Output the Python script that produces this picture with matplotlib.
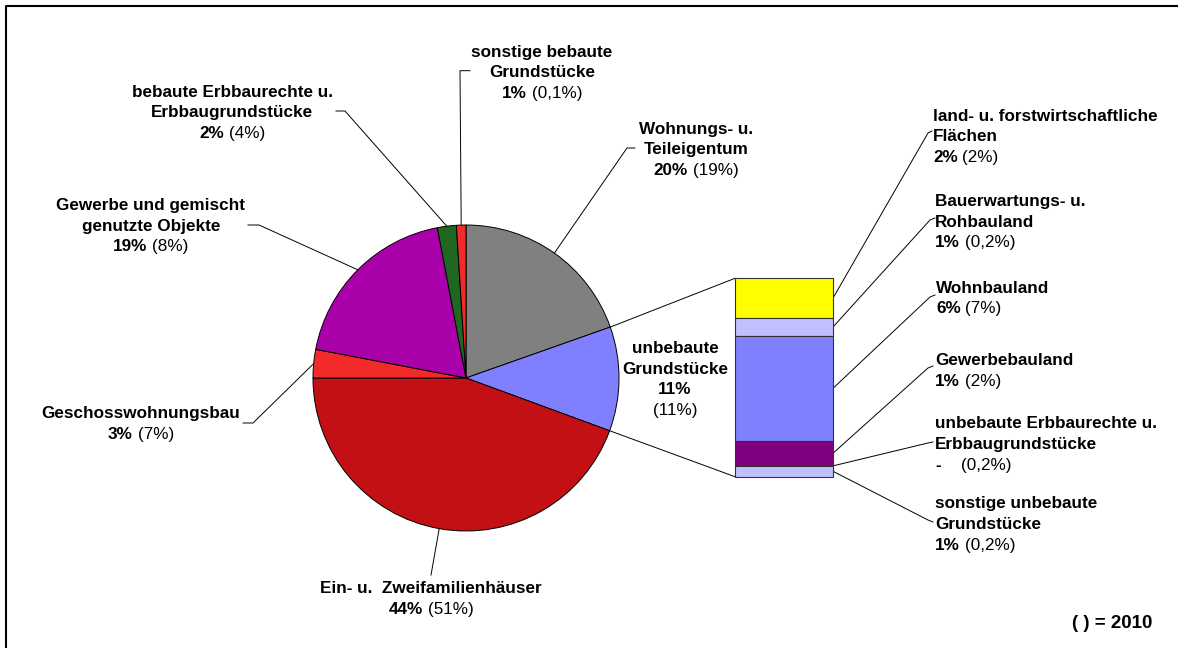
import numpy as np
import matplotlib
matplotlib.use("Agg")
import matplotlib.pyplot as plt

# ---------------- data ----------------
pie_labels = ["Wohnungs- u.\nTeileigentum", "unbebaute\nGrundstücke",
              "Ein- u.  Zweifamilienhäuser", "Geschosswohnungsbau",
              "Gewerbe und gemischt\ngenutzte Objekte",
              "bebaute Erbbaurechte u.\nErbbaugrundstücke",
              "sonstige bebaute\nGrundstücke"]
pie_values = [19.6, 11.0, 44.4, 3.0, 19.0, 2.0, 1.0]
pie_pct_now = ["20%", "11%", "44%", "3%", "19%", "2%", "1%"]
pie_pct_2010 = ["(19%)", "(11%)", "(51%)", "(7%)", "(8%)", "(4%)", "(0,1%)"]
pie_colors = ["#808080", "#8080FF", "#C31014", "#F22A2A", "#AA00AA", "#206820", "#F22A2A"]

bar_labels = ["land- u. forstwirtschaftliche\nFlächen", "Bauerwartungs- u.\nRohbauland",
              "Wohnbauland", "Gewerbebauland",
              "unbebaute Erbbaurechte u.\nErbbaugrundstücke",
              "sonstige unbebaute\nGrundstücke"]
bar_values = [2.2, 1.0, 5.8, 1.4, 0.0, 0.6]
bar_pct_now = ["2%", "1%", "6%", "1%", "-", "1%"]
bar_pct_2010 = ["(2%)", "(0,2%)", "(7%)", "(2%)", "(0,2%)", "(0,2%)"]
bar_colors = ["#FFFF00", "#C0C0FF", "#8080FF", "#800080", "#9999FF", "#C0C0FF"]

footnote = "( ) = 2010"

# ---------------- layout (pixels, y downward) ----------------
W, H = 1178, 648
FONT = "Liberation Sans"
FS = 12.3
LS = 20.7
CX, CY, R = 466, 378, 153
BX0, BX1, BTOP, BH = 735, 833, 278.3, 198.4

def Y(y):
    return H - y

fig = plt.figure(figsize=(W / 100, H / 100), dpi=100)
ax = fig.add_axes([0, 0, 1, 1])
renderer = fig.canvas.get_renderer()

# pie
wedges, _ = ax.pie(pie_values, colors=pie_colors, startangle=90, counterclock=False,
                   center=(CX, Y(CY)), radius=R,
                   wedgeprops=dict(edgecolor="black", linewidth=0.7))
ax.set_xlim(0, W)
ax.set_ylim(0, H)
ax.set_aspect("auto")
ax.axis("off")

frac = np.array(pie_values) / sum(pie_values)
starts = 90 - 360 * np.concatenate([[0], np.cumsum(frac)[:-1]])
mids = starts - 180 * frac
ends = starts - 360 * frac

def edge_pt(ang):
    a = np.deg2rad(ang)
    return CX + R * np.cos(a), CY - R * np.sin(a)

# bar of pie
scale = BH / sum(bar_values)
tops = BTOP + scale * np.concatenate([[0], np.cumsum(bar_values)[:-1]])
heights = scale * np.array(bar_values)
ax.bar([(BX0 + BX1) / 2] * len(bar_values), heights, bottom=[Y(t + h) for t, h in zip(tops, heights)],
       width=BX1 - BX0, color=bar_colors, edgecolor="#333333", linewidth=0.8, zorder=3)

# connectors between pie and bar (blue wedge boundaries)
p_top = edge_pt(starts[1])
p_bot = edge_pt(ends[1])
ax.plot([p_top[0], BX0], [Y(p_top[1]), Y(BTOP)], color="black", lw=0.7)
ax.plot([p_bot[0], BX0], [Y(p_bot[1]), Y(BTOP + BH)], color="black", lw=0.7)

def leader(pts):
    xs = [p[0] for p in pts]
    ys = [Y(p[1]) for p in pts]
    ax.plot(xs, ys, color="black", lw=0.7, zorder=1)

def line(x, y, parts, ha="center", gap=4.7, fs=FS):
    texts = []
    for s, w in parts:
        t = ax.text(0, Y(y), s, fontsize=fs, fontweight=w, family=FONT,
                    ha="left", va="baseline", color="black")
        texts.append(t)
    widths = [t.get_window_extent(renderer).width for t in texts]
    total = sum(widths) + gap * (len(parts) - 1)
    if ha == "center":
        start = x - total / 2
    elif ha == "right":
        start = x - total
    else:
        start = x
    for t, wd in zip(texts, widths):
        t.set_x(start)
        start += wd + gap

def label(x, y0, name, now, old, ha="center", split_pct=False):
    rows = name.split("\n")
    for i, r in enumerate(rows):
        line(x, y0 + i * LS, [(r, "bold")], ha)
    n = len(rows)
    if split_pct:
        line(x, y0 + n * LS, [(now, "bold")], ha)
        line(x, y0 + (n + 1) * LS, [(old, "normal")], ha)
    elif now == "-":
        line(x, y0 + n * LS, [(now, "bold"), (old, "normal")], ha, gap=20)
    else:
        line(x, y0 + n * LS, [(now, "bold"), (old, "normal")], ha)

# pie label positions: (center x, first baseline, elbow points)
pie_layout = [
    (696, 133.7, [(627, 148), (635, 148)]),
    (675, 353.0, None),
    (431, 593.3, [(431, 575)]),
    (141, 418.3, [(253, 423), (243, 423)]),
    (151, 210.0, [(259, 225), (248, 225)]),
    (232, 96.7, [(345, 111), (336, 111)]),
    (542, 56.7, [(460, 70.7), (470, 70.7)]),
]
for i, (x, y0, elbow) in enumerate(pie_layout):
    label(x, y0, pie_labels[i], pie_pct_now[i], pie_pct_2010[i],
          split_pct=(elbow is None))
    if elbow:
        leader([edge_pt(mids[i])] + elbow)

# bar label positions: (left x, first baseline, elbow points)
bar_layout = [
    (933, 120.7, [(928, 133), (932, 131)]),
    (935, 206.0, [(930, 220), (935, 218)]),
    (936, 292.7, [(930, 297), (935, 295)]),
    (935, 365.0, [(928, 368), (933, 366)]),
    (935, 428.3, [(928, 443), (933, 442)]),
    (935, 508.3, [(928, 520), (933, 522)]),
]
for i, (x, y0, elbow) in enumerate(bar_layout):
    label(x, y0, bar_labels[i], bar_pct_now[i], bar_pct_2010[i], ha="left")
    ymid = tops[i] + heights[i] / 2
    leader([(BX1, ymid)] + elbow)

line(1152, 628, [(footnote, "bold")], ha="right", fs=13.5)

# frame (top and left edges visible)
ax.plot([6, 6, W + 5], [Y(H + 5), Y(6), Y(6)], color="black", lw=1.5, solid_capstyle="projecting")

fig.savefig("out.png", dpi=100)
